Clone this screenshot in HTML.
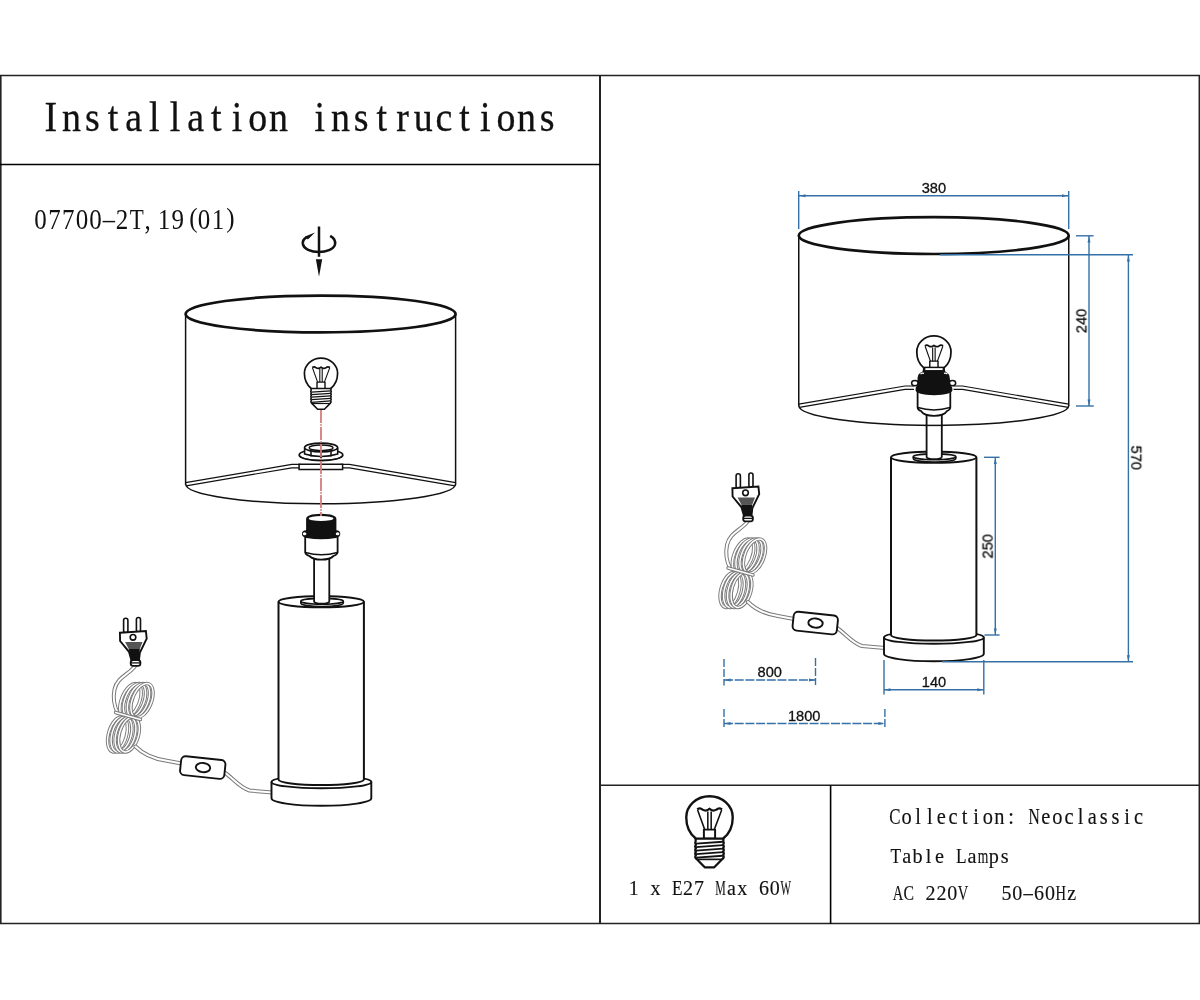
<!DOCTYPE html>
<html><head><meta charset="utf-8"><title>Installation instructions</title>
<style>
html,body{margin:0;padding:0;background:#fff;}
body{width:1200px;height:1000px;overflow:hidden;font-family:"Liberation Sans",sans-serif;}
svg{display:block;}
</style></head><body>
<svg width="1200" height="1000" viewBox="0 0 1200 1000">
<rect width="1200" height="1000" fill="#fff"/>
<g stroke="#222" fill="none">
<line x1="0" y1="75.5" x2="1200" y2="75.5" stroke-width="1.5"/>
<line x1="0" y1="923.5" x2="1200" y2="923.5" stroke-width="1.5"/>
<line x1="0.8" y1="75" x2="0.8" y2="924" stroke-width="1.6"/>
<line x1="1199.3" y1="75" x2="1199.3" y2="924" stroke-width="1.5"/>
<line x1="600" y1="75" x2="600" y2="924" stroke-width="2"/>
<line x1="0" y1="164.5" x2="600" y2="164.5" stroke-width="1.3" stroke="#000"/>
<line x1="600" y1="785.3" x2="1200" y2="785.3" stroke-width="1.6"/>
<line x1="830.6" y1="785" x2="830.6" y2="924" stroke-width="1.6" stroke="#000"/>
</g>
<g style="filter:grayscale(1)" font-family="Liberation Serif" font-size="41.2" fill="#111" stroke="#111" stroke-width="0.3"><text transform="translate(50.90 131.3) scale(0.920 1)" text-anchor="middle">I</text><text transform="translate(71.58 131.3) scale(0.920 1)" text-anchor="middle">n</text><text transform="translate(92.26 131.3) scale(0.920 1)" text-anchor="middle">s</text><text transform="translate(112.94 131.3) scale(0.920 1)" text-anchor="middle">t</text><text transform="translate(133.62 131.3) scale(0.920 1)" text-anchor="middle">a</text><text transform="translate(154.30 131.3) scale(0.920 1)" text-anchor="middle">l</text><text transform="translate(174.98 131.3) scale(0.920 1)" text-anchor="middle">l</text><text transform="translate(195.66 131.3) scale(0.920 1)" text-anchor="middle">a</text><text transform="translate(216.34 131.3) scale(0.920 1)" text-anchor="middle">t</text><text transform="translate(237.02 131.3) scale(0.920 1)" text-anchor="middle">i</text><text transform="translate(257.70 131.3) scale(0.920 1)" text-anchor="middle">o</text><text transform="translate(278.38 131.3) scale(0.920 1)" text-anchor="middle">n</text><text transform="translate(319.74 131.3) scale(0.920 1)" text-anchor="middle">i</text><text transform="translate(340.42 131.3) scale(0.920 1)" text-anchor="middle">n</text><text transform="translate(361.10 131.3) scale(0.920 1)" text-anchor="middle">s</text><text transform="translate(381.78 131.3) scale(0.920 1)" text-anchor="middle">t</text><text transform="translate(402.46 131.3) scale(0.920 1)" text-anchor="middle">r</text><text transform="translate(423.14 131.3) scale(0.920 1)" text-anchor="middle">u</text><text transform="translate(443.82 131.3) scale(0.920 1)" text-anchor="middle">c</text><text transform="translate(464.50 131.3) scale(0.920 1)" text-anchor="middle">t</text><text transform="translate(485.18 131.3) scale(0.920 1)" text-anchor="middle">i</text><text transform="translate(505.86 131.3) scale(0.920 1)" text-anchor="middle">o</text><text transform="translate(526.54 131.3) scale(0.920 1)" text-anchor="middle">n</text><text transform="translate(547.22 131.3) scale(0.920 1)" text-anchor="middle">s</text></g>
<g style="filter:grayscale(1)" font-family="Liberation Serif" font-size="28.4" fill="#111" stroke="#111" stroke-width="0.0"><text transform="translate(40.60 229.4) scale(0.880 1)" text-anchor="middle">0</text><text transform="translate(54.60 229.4) scale(0.880 1)" text-anchor="middle">7</text><text transform="translate(68.30 229.4) scale(0.880 1)" text-anchor="middle">7</text><text transform="translate(82.10 229.4) scale(0.880 1)" text-anchor="middle">0</text><text transform="translate(95.40 229.4) scale(0.880 1)" text-anchor="middle">0</text><text transform="translate(108.75 229.4) scale(0.860 1)" text-anchor="middle">–</text><text transform="translate(122.10 229.4) scale(0.880 1)" text-anchor="middle">2</text><text transform="translate(136.70 229.4) scale(0.807 1)" text-anchor="middle">T</text><text transform="translate(147.50 229.4) scale(0.880 1)" text-anchor="middle">,</text><text transform="translate(164.00 229.4) scale(0.880 1)" text-anchor="middle">1</text><text transform="translate(177.80 229.4) scale(0.880 1)" text-anchor="middle">9</text><text transform="translate(193.50 226.84) scale(0.880 0.97)" text-anchor="middle">(</text><text transform="translate(204.10 229.4) scale(0.880 1)" text-anchor="middle">0</text><text transform="translate(218.00 229.4) scale(0.880 1)" text-anchor="middle">1</text><text transform="translate(230.50 226.84) scale(0.880 0.97)" text-anchor="middle">)</text></g>
<g style="filter:grayscale(1)" font-family="Liberation Serif" font-size="21.8" fill="#111" stroke="#111" stroke-width="0.15"><text transform="translate(633.80 894.6) scale(0.920 1)" text-anchor="middle">1</text><text transform="translate(655.50 894.6) scale(0.920 1)" text-anchor="middle">x</text><text transform="translate(677.20 894.6) scale(0.790 1)" text-anchor="middle">E</text><text transform="translate(688.05 894.6) scale(0.920 1)" text-anchor="middle">2</text><text transform="translate(698.90 894.6) scale(0.920 1)" text-anchor="middle">7</text><text transform="translate(720.60 894.6) scale(0.543 1)" text-anchor="middle">M</text><text transform="translate(731.45 894.6) scale(0.920 1)" text-anchor="middle">a</text><text transform="translate(742.30 894.6) scale(0.920 1)" text-anchor="middle">x</text><text transform="translate(764.00 894.6) scale(0.920 1)" text-anchor="middle">6</text><text transform="translate(774.85 894.6) scale(0.920 1)" text-anchor="middle">0</text><text transform="translate(785.70 894.6) scale(0.511 1)" text-anchor="middle">W</text></g>
<g style="filter:grayscale(1)" font-family="Liberation Serif" font-size="22.2" fill="#111" stroke="#111" stroke-width="0.15"><text transform="translate(895.00 823.6) scale(0.760 1)" text-anchor="middle">C</text><text transform="translate(906.60 823.6) scale(0.920 1)" text-anchor="middle">o</text><text transform="translate(918.20 823.6) scale(0.920 1)" text-anchor="middle">l</text><text transform="translate(929.80 823.6) scale(0.920 1)" text-anchor="middle">l</text><text transform="translate(941.40 823.6) scale(0.920 1)" text-anchor="middle">e</text><text transform="translate(953.00 823.6) scale(0.920 1)" text-anchor="middle">c</text><text transform="translate(964.60 823.6) scale(0.920 1)" text-anchor="middle">t</text><text transform="translate(976.20 823.6) scale(0.920 1)" text-anchor="middle">i</text><text transform="translate(987.80 823.6) scale(0.920 1)" text-anchor="middle">o</text><text transform="translate(999.40 823.6) scale(0.920 1)" text-anchor="middle">n</text><text transform="translate(1011.00 823.6) scale(0.920 1)" text-anchor="middle">:</text><text transform="translate(1034.20 823.6) scale(0.702 1)" text-anchor="middle">N</text><text transform="translate(1045.80 823.6) scale(0.920 1)" text-anchor="middle">e</text><text transform="translate(1057.40 823.6) scale(0.920 1)" text-anchor="middle">o</text><text transform="translate(1069.00 823.6) scale(0.920 1)" text-anchor="middle">c</text><text transform="translate(1080.60 823.6) scale(0.920 1)" text-anchor="middle">l</text><text transform="translate(1092.20 823.6) scale(0.920 1)" text-anchor="middle">a</text><text transform="translate(1103.80 823.6) scale(0.920 1)" text-anchor="middle">s</text><text transform="translate(1115.40 823.6) scale(0.920 1)" text-anchor="middle">s</text><text transform="translate(1127.00 823.6) scale(0.920 1)" text-anchor="middle">i</text><text transform="translate(1138.60 823.6) scale(0.920 1)" text-anchor="middle">c</text></g>
<g style="filter:grayscale(1)" font-family="Liberation Serif" font-size="22.0" fill="#111" stroke="#111" stroke-width="0.15"><text transform="translate(895.80 862.7) scale(0.787 1)" text-anchor="middle">T</text><text transform="translate(906.70 862.7) scale(0.920 1)" text-anchor="middle">a</text><text transform="translate(917.60 862.7) scale(0.920 1)" text-anchor="middle">b</text><text transform="translate(928.50 862.7) scale(0.920 1)" text-anchor="middle">l</text><text transform="translate(939.40 862.7) scale(0.920 1)" text-anchor="middle">e</text><text transform="translate(961.20 862.7) scale(0.787 1)" text-anchor="middle">L</text><text transform="translate(972.10 862.7) scale(0.920 1)" text-anchor="middle">a</text><text transform="translate(983.00 862.7) scale(0.618 1)" text-anchor="middle">m</text><text transform="translate(993.90 862.7) scale(0.920 1)" text-anchor="middle">p</text><text transform="translate(1004.80 862.7) scale(0.920 1)" text-anchor="middle">s</text></g>
<g style="filter:grayscale(1)" font-family="Liberation Serif" font-size="21.8" fill="#111" stroke="#111" stroke-width="0.15"><text transform="translate(898.00 900.0) scale(0.669 1)" text-anchor="middle">A</text><text transform="translate(908.85 900.0) scale(0.724 1)" text-anchor="middle">C</text><text transform="translate(930.55 900.0) scale(0.920 1)" text-anchor="middle">2</text><text transform="translate(941.40 900.0) scale(0.920 1)" text-anchor="middle">2</text><text transform="translate(952.25 900.0) scale(0.920 1)" text-anchor="middle">0</text><text transform="translate(963.10 900.0) scale(0.669 1)" text-anchor="middle">V</text><text transform="translate(1006.50 900.0) scale(0.920 1)" text-anchor="middle">5</text><text transform="translate(1017.35 900.0) scale(0.920 1)" text-anchor="middle">0</text><text transform="translate(1028.20 900.0) scale(0.860 1)" text-anchor="middle">–</text><text transform="translate(1039.05 900.0) scale(0.920 1)" text-anchor="middle">6</text><text transform="translate(1049.90 900.0) scale(0.920 1)" text-anchor="middle">0</text><text transform="translate(1060.75 900.0) scale(0.669 1)" text-anchor="middle">H</text><text transform="translate(1071.60 900.0) scale(0.920 1)" text-anchor="middle">z</text></g>
<defs><g id="cord"><g>
<path d="M748 521 C742 530 730 532 727 545 C725 555 727 562 730 568" stroke="#7a7a7a" stroke-width="4.0" fill="none" stroke-linecap="round"/><path d="M748 521 C742 530 730 532 727 545 C725 555 727 562 730 568" stroke="#fff" stroke-width="2.0" fill="none" stroke-linecap="round"/>
<g fill="none"><g stroke="#7a7a7a" stroke-width="3.4"><ellipse cx="743" cy="556" rx="9" ry="18" transform="rotate(22 743 556)"/></g><g stroke="#fff" stroke-width="1.5"><ellipse cx="743" cy="556" rx="9" ry="18" transform="rotate(22 743 556)"/></g></g><g fill="none"><g stroke="#7a7a7a" stroke-width="3.4"><ellipse cx="747" cy="556" rx="9.5" ry="18" transform="rotate(22 747 556)"/></g><g stroke="#fff" stroke-width="1.5"><ellipse cx="747" cy="556" rx="9.5" ry="18" transform="rotate(22 747 556)"/></g></g><g fill="none"><g stroke="#7a7a7a" stroke-width="3.4"><ellipse cx="751" cy="556" rx="9.5" ry="18" transform="rotate(22 751 556)"/></g><g stroke="#fff" stroke-width="1.5"><ellipse cx="751" cy="556" rx="9.5" ry="18" transform="rotate(22 751 556)"/></g></g><g fill="none"><g stroke="#7a7a7a" stroke-width="3.4"><ellipse cx="754.5" cy="556" rx="9.5" ry="18" transform="rotate(22 754.5 556)"/></g><g stroke="#fff" stroke-width="1.5"><ellipse cx="754.5" cy="556" rx="9.5" ry="18" transform="rotate(22 754.5 556)"/></g></g><g fill="none"><g stroke="#7a7a7a" stroke-width="3.4"><ellipse cx="730" cy="590" rx="9" ry="18" transform="rotate(16 730 590)"/></g><g stroke="#fff" stroke-width="1.5"><ellipse cx="730" cy="590" rx="9" ry="18" transform="rotate(16 730 590)"/></g></g><g fill="none"><g stroke="#7a7a7a" stroke-width="3.4"><ellipse cx="734" cy="590" rx="9.5" ry="18" transform="rotate(16 734 590)"/></g><g stroke="#fff" stroke-width="1.5"><ellipse cx="734" cy="590" rx="9.5" ry="18" transform="rotate(16 734 590)"/></g></g><g fill="none"><g stroke="#7a7a7a" stroke-width="3.4"><ellipse cx="738" cy="590" rx="9.5" ry="18" transform="rotate(16 738 590)"/></g><g stroke="#fff" stroke-width="1.5"><ellipse cx="738" cy="590" rx="9.5" ry="18" transform="rotate(16 738 590)"/></g></g><g fill="none"><g stroke="#7a7a7a" stroke-width="3.4"><ellipse cx="741.5" cy="590" rx="9.5" ry="18" transform="rotate(16 741.5 590)"/></g><g stroke="#fff" stroke-width="1.5"><ellipse cx="741.5" cy="590" rx="9.5" ry="18" transform="rotate(16 741.5 590)"/></g></g>
<path d="M728 568 L753 575" stroke="#7a7a7a" stroke-width="3.4" fill="none" stroke-linecap="round"/><path d="M728 568 L753 575" stroke="#fff" stroke-width="1.4" fill="none" stroke-linecap="round"/>
<path d="M748 602 C756 610 765 614 778 616 L794 619" stroke="#7a7a7a" stroke-width="4.0" fill="none" stroke-linecap="round"/><path d="M748 602 C756 610 765 614 778 616 L794 619" stroke="#fff" stroke-width="2.0" fill="none" stroke-linecap="round"/>
<path d="M837 628 C846 634 852 643 862 646 L885 648" stroke="#7a7a7a" stroke-width="4.0" fill="none" stroke-linecap="round"/><path d="M837 628 C846 634 852 643 862 646 L885 648" stroke="#fff" stroke-width="2.0" fill="none" stroke-linecap="round"/>
<g transform="rotate(6 815 623)" stroke="#111" stroke-width="1.9" fill="#fff">
<rect x="793" y="613.5" width="44.5" height="19" rx="4.5"/>
<ellipse cx="815.5" cy="623" rx="7.2" ry="4.6"/>
</g>
<g stroke="#111" fill="#fff">
<rect x="736.1" y="473.8" width="4.3" height="14.5" rx="2.1" stroke-width="1.6"/>
<rect x="748.9" y="473" width="4.1" height="14.5" rx="2" stroke-width="1.6"/>
<path d="M732.4 488.2 L758.4 486.5 L759.2 494.2 L752.4 508 L751.4 516 H744 L741.5 507.3 L732.6 496.5 Z" stroke-width="1.9"/>
<path d="M737.6 497.6 H755 L752.3 504.6 H741.2 Z" fill="#555" stroke="none"/>
<path d="M741.2 504.4 H752.3 L751.2 515.6 H744.1 Z" fill="#111" stroke="none"/>
<rect x="743.2" y="515.6" width="9.7" height="5.8" rx="2.4" stroke-width="1.8"/>
<line x1="743.5" y1="518.4" x2="752.6" y2="518.4" stroke-width="1.3"/>
<circle cx="745.5" cy="492.8" r="2.8" stroke-width="1.6"/>
</g>
</g></g><g id="body"><g stroke="#111" fill="#fff">
<path d="M884 637.4 V653.7 A49.9 7.6 0 0 0 983.8 653.7 V637.4" stroke-width="1.9"/>
<ellipse cx="933.9" cy="637.4" rx="49.9" ry="6.4" stroke-width="1.9"/>
<path d="M891 457.2 V635 A42.7 5.6 0 0 0 976.4 635 V457.2 Z" stroke="none"/>
<path d="M891 457.2 V635 A42.7 5.6 0 0 0 976.4 635 V457.2" fill="none" stroke-width="2"/>
<ellipse cx="933.7" cy="457.2" rx="42.7" ry="5.6" stroke-width="2"/>
<path d="M913.3 456.8 V458.6 A21.25 3.5 0 0 0 955.8 458.6 V456.8" stroke-width="1.6"/>
<ellipse cx="934.55" cy="456.8" rx="21.25" ry="2.9" stroke-width="1.7"/>
<path d="M926.6 412 V457 A7.6 2.2 0 0 0 941.8 457 V412" stroke-width="1.8"/>
</g></g></defs>
<g transform="translate(933.75 235.6)" fill="none" stroke="#111">
<line x1="-135" y1="0" x2="-135" y2="170.5" stroke-width="1.5"/>
<line x1="135" y1="0" x2="135" y2="170.5" stroke-width="1.5"/>
<path d="M-135 170 A135 19.8 0 0 0 135 170" stroke-width="1.5"/>
<path d="M-135 168.6 L-28.8 150.4 H-19.8 M-134.5 171.8 L-28.8 153.8 H-19.8 M135 168.6 L28.8 150.4 H19.8 M134.5 171.8 L28.8 153.8 H19.8" stroke-width="1.2"/>

<ellipse cx="0" cy="0" rx="135" ry="18.4" stroke-width="2.7"/>
</g>
<use href="#cord"/>
<use href="#body"/>
<path d="M925.5 425.4 H942.8" fill="none" stroke="#111" stroke-width="1.5"/>
<g stroke="#111" stroke-width="1.8">
<path d="M917.6 392 V407.5 Q918 410 921 411 Q924 415.8 934 415.8 Q944 415.8 947 411 Q950 410 950.3 407.5 V392" fill="#fff"/>
<path d="M917.8 407.6 Q934 412.5 950.1 407.6" fill="none" stroke-width="1.6"/>
</g>
<g transform="translate(933.9 351.9) scale(1.03 1.05)"><g fill="none" stroke="#111" stroke-linejoin="round">
<path d="M-9.8 15.2 C-13.2 12.4 -16.6 7.2 -16.6 0 A16.6 15.2 0 0 1 16.6 0 C16.6 7.2 13.2 12.4 9.8 15.2" stroke-width="1.7" fill="#fff"/>
<rect x="-4" y="8.8" width="8" height="6.6" stroke-width="1.4" fill="#fff"/>
<path d="M-8.8 -5.8 Q-6.6 -7.2 -5 -5.6 Q-2.2 -4 0 -6.2 Q2.2 -4 5 -5.6 Q6.6 -7.2 9 -5.8" stroke-width="1.6"/>
<path d="M-8.5 -5.4 L-3.4 8.8 M8.7 -5.4 L3.4 8.8 M-1.2 -4.2 V8.8 M1.2 -4.2 V8.8" stroke-width="1.1"/>
<path d="M-9.9 15.2 H9.9 V17.2 Q10.7 18.5 9.7 19.7 Q10.7 21 9.7 22.2 Q10.7 23.5 9.7 24.7 Q10.7 26 9.7 27.2 Q10.7 28.6 9.4 29.8 L3.4 35.9 H-3.4 L-9.4 29.8 Q-10.7 28.6 -9.7 27.2 Q-10.7 26 -9.7 24.7 Q-10.7 23.5 -9.7 22.2 Q-10.7 21 -9.7 19.7 Q-10.7 18.5 -9.9 17.2 Z" stroke-width="1.6" fill="#fff"/>
<path d="M-9.6 18.9 L9.6 17.5 M-9.6 21.4 L9.6 20 M-9.6 23.9 L9.6 22.5 M-9.6 26.4 L9.6 25 M-9.4 29 L9.4 27.6" stroke-width="1.3"/>
<path d="M-8.9 30.2 H8.9" stroke-width="1.2"/>
</g></g>
<g stroke="#111">
<ellipse cx="914.9" cy="383.1" rx="3.3" ry="2.6" fill="#fff" stroke-width="1.5"/>
<ellipse cx="952.4" cy="383.1" rx="3.3" ry="2.6" fill="#fff" stroke-width="1.5"/>
<path d="M915.6 390.5 Q915.4 386.5 917.3 385.6 L917.6 377.5 Q918.2 371.5 926 371 H942 Q949.3 371.5 949.7 377.5 L950.6 385.6 Q952.6 386.5 952.4 390.5 Q951.5 394.6 934 395.2 Q916.5 394.6 915.6 390.5 Z" fill="#111" stroke="none"/>
<path d="M920.5 374.2 Q922 372.6 924 373.4 M947.4 374.2 Q946 372.6 944 373.4" stroke="#fff" stroke-width="1.2" fill="none"/>
<rect x="924.6" y="367.4" width="18.8" height="3.4" fill="#fff" stroke-width="1.5"/>
</g>
<g transform="translate(-612.5 144.5)"><use href="#cord"/><use href="#body"/></g>
<g stroke="#111" stroke-width="1.8">
<path d="M305.2 537 V552.4 Q306 555 309.4 556 Q313 559.6 321.4 559.6 Q330 559.6 333.5 556 Q337 555 337.6 552.4 V537" fill="#fff"/>
<path d="M305.4 552.4 Q321.4 557 337.4 552.4" fill="none" stroke-width="1.6"/>
<path d="M301.9 533.8 Q301.9 530.6 306.1 530.2 V519 Q306.1 514 321.2 513.8 Q336.4 514 336.4 519 V530.2 Q340.3 530.6 340.3 533.8 Q340.3 537 336 538 Q321 540.6 306.5 538 Q301.9 537 301.9 533.8 Z" fill="#111" stroke="none"/>
<ellipse cx="321.1" cy="518.5" rx="12.3" ry="2.6" fill="#fff" stroke="none"/>
<ellipse cx="304.6" cy="533.8" rx="1.8" ry="1.5" fill="#fff" stroke="none"/>
<ellipse cx="337.6" cy="533.8" rx="1.8" ry="1.5" fill="#fff" stroke="none"/>
</g>
<g transform="translate(320.6 314)" fill="none" stroke="#111">
<line x1="-135" y1="0" x2="-135" y2="170.5" stroke-width="1.5"/>
<line x1="135" y1="0" x2="135" y2="170.5" stroke-width="1.5"/>
<path d="M-135 170 A135 19.8 0 0 0 135 170" stroke-width="1.5"/>
<path d="M-135 168.6 L-28.8 150.4 H-19.8 M-134.5 171.8 L-28.8 153.8 H-19.8 M135 168.6 L28.8 150.4 H19.8 M134.5 171.8 L28.8 153.8 H19.8" stroke-width="1.2"/>
<path d="M-21.5 150.3 H22 V155.4 H-21.5 Z" stroke-width="1.5" fill="#fff"/>
<ellipse cx="0" cy="0" rx="135" ry="18.4" stroke-width="2.7"/>
</g>
<g stroke="#111" fill="#fff">
<ellipse cx="321" cy="455" rx="21.8" ry="5.6" stroke-width="1.7"/>
<path d="M299.3 455 Q300 459.5 321 460.3 Q342 459.5 342.7 455" fill="none" stroke-width="1.3"/>
<path d="M304.6 447.5 V454 Q321 459 337.7 454 V447.5" stroke-width="1.6"/>
<ellipse cx="321.1" cy="447.5" rx="16.5" ry="4.4" stroke-width="1.6"/>
<ellipse cx="321.1" cy="447.8" rx="12" ry="2.8" stroke-width="1.4"/>
<path d="M311 451 V456.5 M321 452 V458 M331 451 V456.5" stroke-width="1.5"/>
</g>
<g transform="translate(321 373.3) scale(1.0 1.0)"><g fill="none" stroke="#111" stroke-linejoin="round">
<path d="M-9.8 15.2 C-13.2 12.4 -16.6 7.2 -16.6 0 A16.6 15.2 0 0 1 16.6 0 C16.6 7.2 13.2 12.4 9.8 15.2" stroke-width="1.7" fill="#fff"/>
<rect x="-4" y="8.8" width="8" height="6.6" stroke-width="1.4" fill="#fff"/>
<path d="M-8.8 -5.8 Q-6.6 -7.2 -5 -5.6 Q-2.2 -4 0 -6.2 Q2.2 -4 5 -5.6 Q6.6 -7.2 9 -5.8" stroke-width="1.6"/>
<path d="M-8.5 -5.4 L-3.4 8.8 M8.7 -5.4 L3.4 8.8 M-1.2 -4.2 V8.8 M1.2 -4.2 V8.8" stroke-width="1.1"/>
<path d="M-9.9 15.2 H9.9 V17.2 Q10.7 18.5 9.7 19.7 Q10.7 21 9.7 22.2 Q10.7 23.5 9.7 24.7 Q10.7 26 9.7 27.2 Q10.7 28.6 9.4 29.8 L3.4 35.9 H-3.4 L-9.4 29.8 Q-10.7 28.6 -9.7 27.2 Q-10.7 26 -9.7 24.7 Q-10.7 23.5 -9.7 22.2 Q-10.7 21 -9.7 19.7 Q-10.7 18.5 -9.9 17.2 Z" stroke-width="1.6" fill="#fff"/>
<path d="M-9.6 18.9 L9.6 17.5 M-9.6 21.4 L9.6 20 M-9.6 23.9 L9.6 22.5 M-9.6 26.4 L9.6 25 M-9.4 29 L9.4 27.6" stroke-width="1.3"/>
<path d="M-8.9 30.2 H8.9" stroke-width="1.2"/>
</g></g>
<line x1="321" y1="410" x2="321" y2="516" stroke="#d67c7c" stroke-width="1.8" stroke-dasharray="13 1.2 1.6 1.2"/>
<g fill="none" stroke="#111" stroke-linecap="butt">
<line x1="319" y1="226.5" x2="319" y2="256.8" stroke-width="2.5"/>
<path d="M330.2 235.8 C334 238 335.8 241 335 244.5 C333.5 249.5 326 252 319 252 C311 252 303.5 249 302.8 243.5 C302.5 240.5 304.5 238.5 306.5 237.3" stroke-width="2.6"/>
</g>
<path d="M305 236.4 L307.9 239.6 L315 232.6 Z" fill="#111"/>
<path d="M315.9 259.2 H322.2 L319 276.8 Z" fill="#111"/>
<g transform="translate(709.5 817.4) scale(1.40 1.39)"><g fill="none" stroke="#111" stroke-linejoin="round">
<path d="M-9.8 15.2 C-13.2 12.4 -16.6 7.2 -16.6 0 A16.6 15.2 0 0 1 16.6 0 C16.6 7.2 13.2 12.4 9.8 15.2" stroke-width="1.7" fill="#fff"/>
<rect x="-4" y="8.8" width="8" height="6.6" stroke-width="1.4" fill="#fff"/>
<path d="M-8.8 -5.8 Q-6.6 -7.2 -5 -5.6 Q-2.2 -4 0 -6.2 Q2.2 -4 5 -5.6 Q6.6 -7.2 9 -5.8" stroke-width="1.6"/>
<path d="M-8.5 -5.4 L-3.4 8.8 M8.7 -5.4 L3.4 8.8 M-1.2 -4.2 V8.8 M1.2 -4.2 V8.8" stroke-width="1.1"/>
<path d="M-9.9 15.2 H9.9 V17.2 Q10.7 18.5 9.7 19.7 Q10.7 21 9.7 22.2 Q10.7 23.5 9.7 24.7 Q10.7 26 9.7 27.2 Q10.7 28.6 9.4 29.8 L3.4 35.9 H-3.4 L-9.4 29.8 Q-10.7 28.6 -9.7 27.2 Q-10.7 26 -9.7 24.7 Q-10.7 23.5 -9.7 22.2 Q-10.7 21 -9.7 19.7 Q-10.7 18.5 -9.9 17.2 Z" stroke-width="1.6" fill="#fff"/>
<path d="M-9.6 18.9 L9.6 17.5 M-9.6 21.4 L9.6 20 M-9.6 23.9 L9.6 22.5 M-9.6 26.4 L9.6 25 M-9.4 29 L9.4 27.6" stroke-width="1.3"/>
<path d="M-8.9 30.2 H8.9" stroke-width="1.2"/>
</g></g>
<g stroke="#3570a6" stroke-width="1.4" fill="none">
<line x1="798.7" y1="191" x2="798.7" y2="229"/>
<line x1="1068.7" y1="191" x2="1068.7" y2="229"/>
<line x1="799" y1="195.8" x2="1068" y2="195.8"/>
<line x1="1076" y1="235.8" x2="1093.6" y2="235.8"/>
<line x1="1076" y1="406" x2="1093.8" y2="406"/>
<line x1="1089" y1="236" x2="1089" y2="406"/>
<line x1="940" y1="254.8" x2="1133" y2="254.8"/>
<line x1="1128.4" y1="255" x2="1128.4" y2="661.8"/>
<line x1="942" y1="661.8" x2="1133" y2="661.8"/>
<line x1="984" y1="457.3" x2="999.6" y2="457.3"/>
<line x1="984.4" y1="635" x2="999.6" y2="635"/>
<line x1="995.3" y1="457.3" x2="995.3" y2="635"/>
<line x1="884" y1="660" x2="884" y2="694.5"/>
<line x1="983.8" y1="660" x2="983.8" y2="694.5"/>
<line x1="884" y1="689.8" x2="983.8" y2="689.8"/>
</g>
<g stroke="#3570a6" stroke-width="1.4" fill="none" stroke-dasharray="8 2">
<line x1="724" y1="659" x2="724" y2="685.5"/>
<line x1="815.5" y1="658" x2="815.5" y2="685"/>
<line x1="724" y1="709" x2="724" y2="728.5"/>
<line x1="884.9" y1="709" x2="884.9" y2="728.5"/>
</g>
<g stroke="#3570a6" stroke-width="1.4" fill="none" stroke-dasharray="9 1.7">
<line x1="724" y1="680" x2="815.5" y2="680"/>
<line x1="724" y1="723.5" x2="884.9" y2="723.5"/>
</g>
<path d="M799.5 195.8 l6 -1.5 v3 z" fill="#3570a6"/><path d="M1068 195.8 l-6 -1.5 v3 z" fill="#3570a6"/>
<path d="M1089 236.5 l-1.5 6 h3 z" fill="#3570a6"/><path d="M1089 405.5 l-1.5 -6 h3 z" fill="#3570a6"/>
<path d="M1128.4 255.5 l-1.5 6 h3 z" fill="#3570a6"/><path d="M1128.4 661.3 l-1.5 -6 h3 z" fill="#3570a6"/>
<path d="M995.3 458 l-1.5 6 h3 z" fill="#3570a6"/><path d="M995.3 634.5 l-1.5 -6 h3 z" fill="#3570a6"/>
<path d="M884.5 689.8 l6 -1.5 v3 z" fill="#3570a6"/><path d="M983.3 689.8 l-6 -1.5 v3 z" fill="#3570a6"/>
<path d="M724.5 680 l6 -1.5 v3 z" fill="#3570a6"/><path d="M815 680 l-6 -1.5 v3 z" fill="#3570a6"/>
<path d="M724.5 723.5 l6 -1.5 v3 z" fill="#3570a6"/><path d="M884.4 723.5 l-6 -1.5 v3 z" fill="#3570a6"/>
<g style="filter:grayscale(1)" font-family="Liberation Sans" font-size="14.6" fill="#111" stroke="#111" stroke-width="0.3" text-anchor="middle">
<text x="933.9" y="192.7">380</text>
<text x="934" y="687">140</text>
<text x="769.7" y="677">800</text>
<text x="804.2" y="720.6">1800</text>
<text transform="translate(1086.4 320.9) rotate(-90)">240</text>
<text transform="translate(992.6 546.3) rotate(-90)">250</text>
<text transform="translate(1131.3 457.8) rotate(90)">570</text>
</g>
</svg>
</body></html>
